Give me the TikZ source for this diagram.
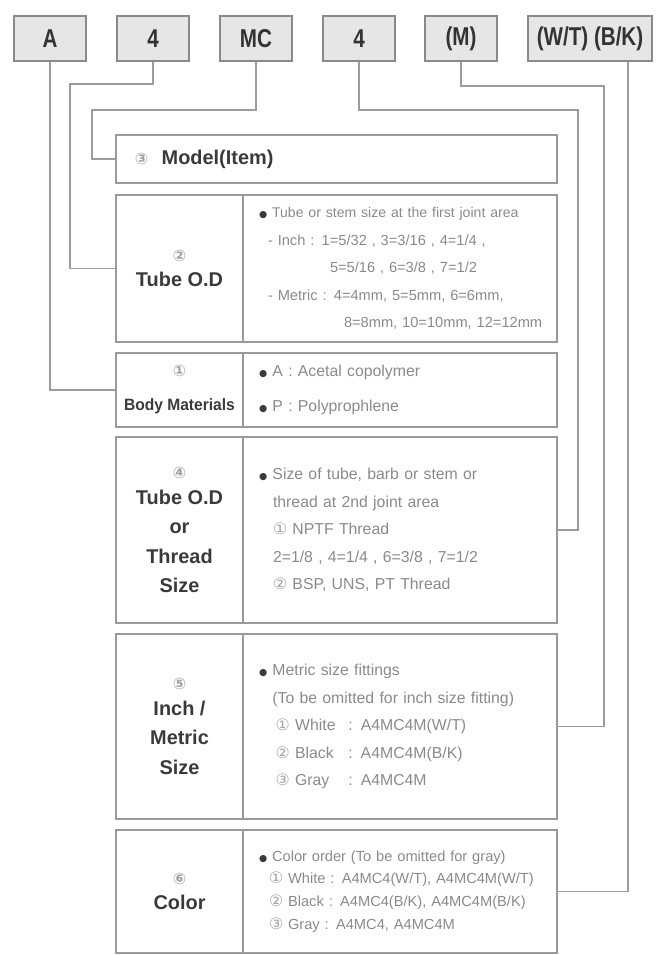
\documentclass[tikz,border=0pt]{standalone}
\usepackage{fontspec}
\setmainfont{Liberation Sans}
\newfontfamily\symfont{DejaVu Sans}
\usetikzlibrary{positioning}
\definecolor{boxfill}{HTML}{E6E6E6}
\definecolor{boxdraw}{HTML}{8A8A8A}
\definecolor{celldraw}{HTML}{9A9A9A}
\definecolor{linegray}{HTML}{9C9C9C}
\definecolor{titlegray}{HTML}{3A3A3A}
\definecolor{textgray}{HTML}{8A8A8A}
\definecolor{numgray}{HTML}{A2A2A2}
\newcommand{\cnum}[1]{{\symfont\fontsize{13.5}{13.5}\selectfont\color{numgray}#1}}
\newcommand{\blt}{{\symfont\fontsize{8}{8}\selectfont\color{titlegray}●}}

\begin{document}
\begin{tikzpicture}[x=0.03cm, y=-0.03cm,
	keybox/.style={draw=boxdraw, fill=boxfill, line width=1.6pt, rectangle, minimum height=1.35cm, 
	minimum width=2.16cm, text centered, text=black!80, font=\fontsize{22}{24}\selectfont\bfseries},
	cellL/.style={draw=celldraw, line width=1pt, rectangle, minimum width=3.81cm, outer sep=0pt, 
	align=center, text=titlegray, font=\fontsize{17}{25}\selectfont\bfseries},
	cellR/.style={draw=celldraw, line width=1pt, rectangle, minimum width=9.42cm, text width=8.46cm, 
	inner xsep=0.48cm, outer sep=0pt, align=left, text=textgray, font=\fontsize{13.5}{23.5}\selectfont},
	link/.style={draw=linegray, line width=1.6pt}]
		\useasboundingbox (0,0) rectangle (656,955);
		
		\node (ta) at (50,38.5) [keybox]{\scalebox{0.8}[1]{A}};
		\node (t4a) at (153,38.5) [keybox]{\scalebox{0.8}[1]{4}};
		\node (tmc) at (256,38.5) [keybox]{\scalebox{0.8}[1]{MC}};
		\node (t4b) at (359,38.5) [keybox]{\scalebox{0.8}[1]{4}};
		\node (tm) at (461,38.5) [keybox]{\scalebox{0.8}[1]{(M)}};
		\node (twb) at (590,38.5) [keybox, minimum width=3.72cm]{\scalebox{0.8}[1]{(W/T) (B/K)}};
		
		\node (model) at (336.5,159) [draw=celldraw, line width=1pt, rectangle, minimum width=13.23cm, 
		minimum height=1.44cm, text width=12.09cm, inner xsep=0.57cm, outer sep=0pt, align=left, 
		text=titlegray, font=\fontsize{17}{20}\selectfont\bfseries]{\cnum{③}\ \ Model(Item)};
		
		\node (tubeL) at (179.5,268.5) [cellL, minimum height=4.41cm]{\cnum{②}\\[-3pt]Tube O.D};
		\node (tubeR) [cellR, right=0pt of tubeL, minimum height=4.41cm, 
		font=\fontsize{12.5}{23.5}\selectfont]{%
		{\fontsize{12}{23.5}\selectfont\blt\ Tube or stem size at the first joint area}\\
		\hspace*{0.27cm}- Inch : 1=5/32 , 3=3/16 , 4=1/4 ,\\
		\hspace*{2.13cm}5=5/16 , 6=3/8 , 7=1/2\\
		\hspace*{0.27cm}- Metric : 4=4mm, 5=5mm, 6=6mm,\\
		\hspace*{2.55cm}\mbox{8=8mm, 10=10mm, 12=12mm}};
		
		\node (bodyL) at (179.5,390) [cellL, minimum height=2.22cm]{\cnum{①}\\[4pt]%
		\scalebox{0.95}[1]{\fontsize{14}{16}\selectfont Body Materials}};
		\node (bodyR) [cellR, right=0pt of bodyL, minimum height=2.22cm, 
		font=\fontsize{13.5}{30}\selectfont]{\blt\ A : Acetal copolymer\\
		\blt\ P : Polyprophlene};
		
		\node (threadL) at (179.5,530) [cellL, minimum height=5.58cm]{\cnum{④}\\[-3pt]Tube O.D\\or\\
		Thread\\Size};
		\node (threadR) [cellR, right=0pt of threadL, minimum height=5.58cm]{%
		\blt\ Size of tube, barb or stem or\\
		\hspace*{0.42cm}thread at 2nd joint area\\
		\hspace*{0.42cm}\cnum{①} NPTF Thread\\
		\hspace*{0.42cm}2=1/8 , 4=1/4 , 6=3/8 , 7=1/2\\
		\hspace*{0.42cm}\cnum{②} BSP, UNS, PT Thread};
		
		\node (inchL) at (179.5,726.5) [cellL, minimum height=5.55cm]{\cnum{⑤}\\[-3pt]Inch /\\Metric\\
		Size};
		\node (inchR) [cellR, right=0pt of inchL, minimum height=5.55cm]{%
		\blt\ Metric size fittings\\
		\hspace*{0.4cm}(To be omitted for inch size fitting)\\
		\hspace*{0.5cm}\cnum{①} \makebox[1.6cm][l]{White}: A4MC4M(W/T)\\
		\hspace*{0.5cm}\cnum{②} \makebox[1.6cm][l]{Black}: A4MC4M(B/K)\\
		\hspace*{0.5cm}\cnum{③} \makebox[1.6cm][l]{Gray}: A4MC4M};
		
		\node (colorL) at (179.5,891.5) [cellL, minimum height=3.69cm]{\cnum{⑥}\\[-3pt]Color};
		\node (colorR) [cellR, right=0pt of colorL, minimum height=3.69cm, 
		font=\fontsize{12.5}{19.5}\selectfont]{%
		\blt\ Color order (To be omitted for gray)\\
		\hspace*{0.3cm}\cnum{①} White : A4MC4(W/T), A4MC4M(W/T)\\
		\hspace*{0.3cm}\cnum{②} Black : A4MC4(B/K), A4MC4M(B/K)\\
		\hspace*{0.3cm}\cnum{③} Gray : A4MC4, A4MC4M};
		
		\coordinate (bendA) at (70,84);
		\coordinate (bendMC) at (92,110);
		\coordinate (bendB) at (578,110);
		\coordinate (bendM) at (604,86);
		
		\draw[link] (ta.south) |- (bodyL.west);
		\draw[link] (t4a.south) |- (bendA) |- (tubeL.west);
		\draw[link] (tmc.south) |- (bendMC) |- (model.west);
		\draw[link] (t4b.south) |- (bendB) |- (threadR.east);
		\draw[link] (tm.south) |- (bendM) |- (inchR.east);
		\draw[link] ([xshift=1.14cm]twb.south) |- (colorR.east);
		\end{tikzpicture}
\end{document}
